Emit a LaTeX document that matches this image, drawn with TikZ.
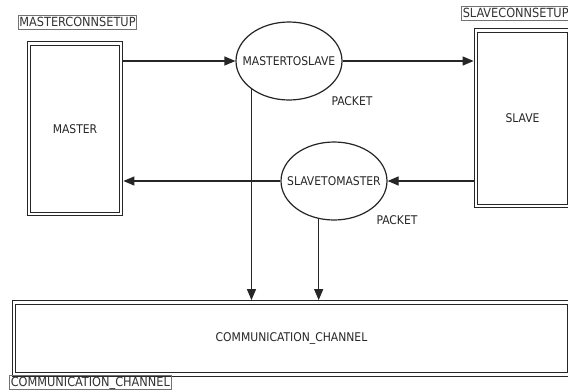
\documentclass[tikz,border=0pt]{standalone}
\usepackage{fontspec}
\setmainfont{DejaVu Sans Condensed}
\usetikzlibrary{shapes.geometric,arrows.meta}
\tikzset{
  line/.style={draw=black!85, line width=1.2pt},
  arr/.style={line, -{Triangle[length=11pt,width=9pt]}},
  dbox/.style={draw=black!85, line width=1.2pt, double, double distance=2.4pt,
    rectangle, inner sep=0pt, outer sep=2.4pt, font=\fontsize{12}{14}\selectfont, text=black!85},
  proc/.style={draw=black!85, line width=1.2pt, ellipse, inner sep=0pt,
    minimum width=106pt, minimum height=78pt, font=\fontsize{12}{14}\selectfont, text=black!85},
  tag/.style={draw=black!55, line width=0.9pt, text=black!80, inner sep=1.3pt,
    font=\fontsize{12.6}{14}\selectfont, text height=9.4pt, text depth=1.6pt},
  lbl/.style={font=\fontsize{12}{14}\selectfont, text=black!85, inner sep=0pt}
}
\begin{document}
\begin{tikzpicture}[x=1pt,y=-1pt]
\clip (0,0) rectangle (568,389);
\fill[white] (0,0) rectangle (568,389);

% components
\node[dbox, minimum width=92pt, minimum height=170.5pt] (master) at (75,128.75) {MASTER};
\node[dbox, minimum width=93pt, minimum height=175.5pt] (slave) at (522.5,118.25) {SLAVE};
\node[dbox, minimum width=555pt, minimum height=72pt] (comm) at (291.5,338.5) {COMMUNICATION\_CHANNEL};

% component tags
\node[tag] (mtag) at (77.5,22.5) {MASTERCONNSETUP};
\node[tag, anchor=north west] (stag) at (461,6) {SLAVECONNSETUP};
\node[tag, anchor=north west] (ctag) at (9,375) {COMMUNICATION\_CHANNEL};

% processes
\node[proc] (m2s) at (289,61) {\makebox[0pt]{MASTERTOSLAVE}};
\node[proc] (s2m) at (334,181) {\makebox[0pt]{SLAVETOMASTER}};

% data labels
\node[lbl] (p1) at (352,101) {PACKET};
\node[lbl] (p2) at (397,220) {PACKET};

% flows
\draw[arr] (master.east |- m2s.west) -- (m2s.west);
\draw[arr] (m2s.east) -- (m2s.east -| slave.west);
\draw[arr] (slave.west |- s2m.east) -- (s2m.east);
\draw[arr] (s2m.west) -- (s2m.west -| master.east);
\draw[arr] (m2s.217) -- (m2s.217 |- comm.north);
\draw[arr] (s2m.248) -- (s2m.248 |- comm.north);
\end{tikzpicture}
\end{document}
